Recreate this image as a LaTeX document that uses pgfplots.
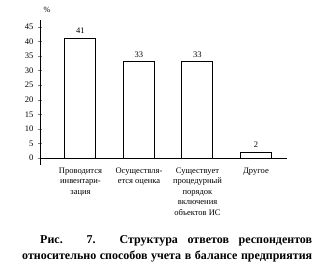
\documentclass[border=0pt]{standalone}
\usepackage{fontspec}
\setmainfont{Liberation Serif}
\usepackage{pgfplots}
\pgfplotsset{compat=1.18}
\begin{document}
\begin{tikzpicture}[x=1pt,y=1pt]
\useasboundingbox (0,0) rectangle (333,277);
\begin{axis}[
  at={(40pt,112pt)}, anchor=south west,
  scale only axis, width=247pt, height=145pt,
  xmin=-0.692, xmax=3.53, ymin=-2.4, ymax=47.4,
  axis y line=left, axis x line=middle,
  x axis line style={-}, y axis line style={-},
  axis line style={line width=0.5pt},
  xtick={0,1,2,3},
  xticklabels={{Проводится\\инвентари-\\зация},{Осуществля-\\ется оценка},{Существует\\процедурный\\порядок\\включения\\объектов ИС},{Другое}},
  xtick style={draw=none},
  xticklabel style={anchor=north, align=center, font=\fontsize{8.5}{10.5}\selectfont, yshift=-4pt},
  ytick={0,5,...,45},
  ytick style={line width=0.5pt},
  tick align=center, major tick length=4pt,
  yticklabel style={font=\fontsize{8.5}{10}\selectfont, xshift=-1pt},
  /pgf/number format/assume math mode=true,
  ylabel={\%},
  every axis y label/.style={at={(axis description cs:0,1)}, anchor=south west, yshift=4pt, font=\fontsize{8}{9}\selectfont},
  clip=false,
]
\addplot[ybar, bar width=31pt, fill=white, draw=black, line width=1pt,
  nodes near coords, every node near coord/.append style={font=\fontsize{8.5}{10}\selectfont, yshift=1pt}]
  coordinates {(0,41) (1,33) (2,33) (3,2)};
\end{axis}
\node[anchor=base west, inner sep=0, font=\bfseries\fontsize{12}{16}\selectfont] at (40,34)
  {\makebox[272pt][s]{Рис. 7. Структура ответов респондентов}};
\node[anchor=base west, inner sep=0, font=\bfseries\fontsize{12}{16}\selectfont] at (22,18)
  {\makebox[290pt][s]{относительно способов учета в балансе предприятия}};
\end{tikzpicture}
\end{document}
